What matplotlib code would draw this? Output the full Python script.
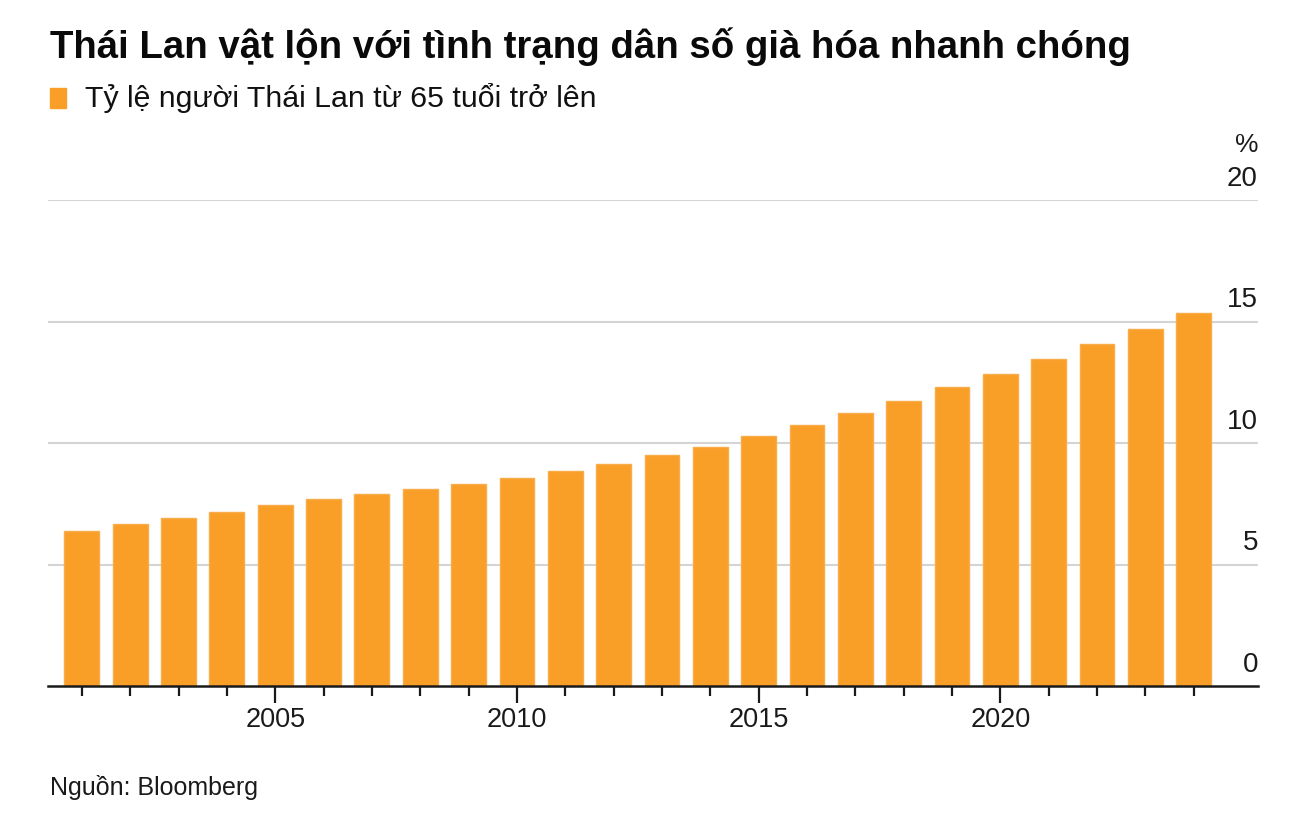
import matplotlib
matplotlib.use("Agg")
import matplotlib.pyplot as plt
from matplotlib.ticker import FixedLocator

years = list(range(2001, 2025))
share_65plus = [6.39, 6.65, 6.92, 7.18, 7.46, 7.70, 7.91, 8.10, 8.32, 8.55,
                8.86, 9.15, 9.52, 9.85, 10.29, 10.74, 11.23, 11.74, 12.30, 12.85,
                13.44, 14.09, 14.68, 15.34]
y_ticks = [0, 5, 10, 15, 20]
x_label_years = [2005, 2010, 2015, 2020]

title = "Thái Lan vật lộn với tình trạng dân số già hóa nhanh chóng"
legend_label = "Tỷ lệ người Thái Lan từ 65 tuổi trở lên"
source = "Nguồn: Bloomberg"

plt.rcParams['font.family'] = ['Liberation Sans', 'DejaVu Sans']

W, H = 1305, 816
fig = plt.figure(figsize=(W / 100, H / 100), dpi=100)
fig.patch.set_facecolor('white')

left, right = 48 / W, 1258 / W
bottom, top = 1 - 686 / H, 1 - 200 / H
ax = fig.add_axes([left, bottom, right - left, top - bottom])

bar_color = '#F99F28'
ax.bar(years, share_65plus, width=0.72, color=bar_color, edgecolor='#F8AC4A',
       linewidth=1.0, zorder=3)

ax.set_xlim(2000.3, 2025.33)
ax.set_ylim(0, 20)

for s in ['top', 'right', 'left']:
    ax.spines[s].set_visible(False)
ax.spines['bottom'].set_color('#1a1a1a')
ax.spines['bottom'].set_linewidth(1.8)
ax.spines['bottom'].set_zorder(4)

for yv in y_ticks[1:]:
    ax.axhline(yv, color='#d4d4d4', linewidth=1.5, zorder=1)

ax.set_yticks([])
ax.xaxis.set_major_locator(FixedLocator(x_label_years))
ax.xaxis.set_minor_locator(FixedLocator([y for y in years if y not in x_label_years]))
ax.tick_params(axis='x', which='major', length=12, width=1.6, color='#1a1a1a',
               labelsize=19.5, pad=3, labelcolor='#1a1a1a')
ax.tick_params(axis='x', which='minor', length=7, width=1.6, color='#1a1a1a')
ax.set_xticklabels([str(y) for y in x_label_years])

for yv in y_ticks:
    ax.annotate(str(yv), xy=(1.0, yv), xycoords=('axes fraction', 'data'),
                xytext=(0, 6), textcoords='offset points',
                ha='right', va='bottom', fontsize=20, color='#1a1a1a')
ax.annotate('%', xy=(1.0, 20), xycoords=('axes fraction', 'data'),
            xytext=(0, 31), textcoords='offset points',
            ha='right', va='bottom', fontsize=19, color='#1a1a1a')

fig.text(50 / W, 1 - 47 / H, title, fontsize=27.6, fontweight='bold',
         ha='left', va='center', color='#0a0a0a')
fig.patches.append(matplotlib.patches.Rectangle((50 / W, 1 - 108 / H), 16 / W, 20 / H,
                   transform=fig.transFigure, color=bar_color, figure=fig))
fig.text(85 / W, 1 - 98 / H, legend_label, fontsize=21.8, ha='left', va='center',
         color='#111111')
fig.text(50 / W, 1 - 788 / H, source, fontsize=18, ha='left', va='center',
         color='#1a1a1a')

fig.savefig('out.png', dpi=100, facecolor='white')
